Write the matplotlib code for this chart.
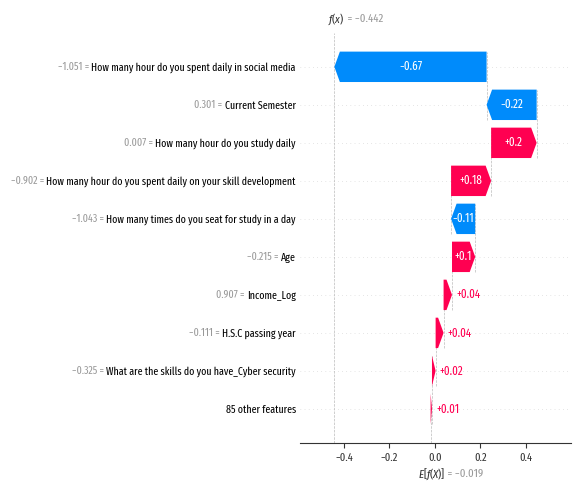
import re
import matplotlib
matplotlib.use("Agg")
import matplotlib.pyplot as plt
import matplotlib.transforms as mtransforms

# ── Waterfall explanation for a single prediction ──
feature_names = [
    "How many hour do you spent daily in social media",
    "Current Semester",
    "How many hour do you study daily",
    "How many hour do you spent daily on your skill development",
    "How many times do you seat for study in a day",
    "Age",
    "Income_Log",
    "H.S.C passing year",
    "What are the skills do you have_Cyber security",
    "85 other features",
]
feature_values = [-1.051, 0.301, 0.007, -0.902, -1.043, -0.215, 0.907, -0.111, -0.325, None]
shap_values = [-0.669, -0.220, 0.200, 0.176, -0.106, 0.102, 0.037, 0.035, 0.016, 0.006]
base_value = -0.019

RED = "#ff0051"
BLUE = "#008bfb"
FONT = ["Fira Sans Extra Condensed", "DejaVu Sans"]

plt.rcParams["font.family"] = FONT
plt.rcParams["mathtext.fontset"] = "custom"
plt.rcParams["mathtext.rm"] = "Fira Sans Extra Condensed"
plt.rcParams["mathtext.it"] = "Fira Sans Extra Condensed:italic"


def fmt(v, f):
    s = f % v
    s = re.sub(r"\.?0+$", "", s)
    if s[0] == "-":
        s = "\u2212" + s[1:]
    return s


n = len(feature_names)
fx = base_value + sum(shap_values)
rows = list(range(n - 1, -1, -1))          # top feature drawn highest

fig = plt.figure(figsize=(5.73, 4.88), dpi=100)
ax = fig.add_axes([0.5236, 0.0928, 0.4729, 0.8396])
ax.set_xlim(-0.593, 0.598)
ax.set_ylim(-0.89, n - 1 + 0.89)

# start point of every bar, accumulated from the bottom (base value) upward
lefts = [0.0] * n
cum = base_value
for k in range(n - 1, -1, -1):
    lefts[k] = cum
    cum += shap_values[k]

ax_w_in = ax.get_position().width * fig.get_figwidth()
xscale = (ax.get_xlim()[1] - ax.get_xlim()[0]) / ax_w_in
hl = 0.055 * xscale
bar_h = 0.8
renderer = fig.canvas.get_renderer()

for k in range(n):
    y = rows[k]
    v = shap_values[k]
    ax.axhline(y, color="#cccccc", lw=0.5, dashes=(1, 5), zorder=-1)
    if k < n - 1:
        ax.plot([lefts[k], lefts[k]], [y - 1 - 0.4, y + 0.4], color="#bbbbbb",
                linestyle="--", linewidth=0.5, zorder=-1)
    col = RED if v >= 0 else BLUE
    d = abs(v)
    sign = 1 if v >= 0 else -1
    arr = ax.arrow(lefts[k], y, sign * max(d - hl, 1e-6), 0, head_length=min(d, hl),
                   width=bar_h, head_width=bar_h, color=col, lw=0)
    label = fmt(v, "%+0.02f")
    t = ax.text(lefts[k] + 0.5 * v, y, label, ha="center", va="center",
                color="white", fontsize=8.6)
    # label too wide for its arrow -> put it just outside the tip
    if t.get_window_extent(renderer).width > arr.get_window_extent(renderer).width + 2:
        t.remove()
        ax.annotate(label, (lefts[k] + v, y), xytext=(3 * sign, 0), textcoords="offset points",
                    ha="left" if v >= 0 else "right", va="center", color=col, fontsize=8.6)

ax.axvline(base_value, 0, 1 / n, color="#bbbbbb", linestyle="--", linewidth=0.5, zorder=-1)
ax.axvline(fx, 0, 1, color="#bbbbbb", linestyle="--", linewidth=0.5, zorder=-1)

# y tick labels: black feature names, grey "value =" placed just left of each
ax.set_yticks(rows, feature_names)
ax.tick_params(axis="y", length=0, labelsize=7.8, pad=3)
ax.tick_params(axis="x", labelsize=8.2, colors="#333333")
ax.spines["bottom"].set_color("#333333")
for s in ("left", "top", "right"):
    ax.spines[s].set_visible(False)
ax.set_xticks([-0.4, -0.2, 0.0, 0.2, 0.4])
ax.set_xticklabels([fmt(v, "%0.1f") if v != 0 else "0.0" for v in [-0.4, -0.2, 0.0, 0.2, 0.4]])

fig.canvas.draw()
ax_box = ax.get_window_extent(renderer)
trans = mtransforms.blended_transform_factory(ax.transAxes, ax.transData)
for k in range(n):
    if feature_values[k] is None:
        continue
    lab = ax.get_yticklabels()[k]
    x0 = (lab.get_window_extent(renderer).x0 - ax_box.x0) / ax_box.width
    ax.text(x0, rows[k], fmt(feature_values[k], "%0.03f") + " = ", transform=trans,
            ha="right", va="center", fontsize=7.8, color="#999999", clip_on=False)

# f(x) and E[f(X)] markers
top = mtransforms.blended_transform_factory(ax.transData, fig.transFigure)
t1 = ax.text(fx - 6 * xscale / 100, 0.961, "$f(x)$", transform=top, ha="left", va="center",
             fontsize=8.4, color="#333333")
ax.annotate(" = " + fmt(fx, "%0.03f"), xy=(1, 0.5), xycoords=t1, ha="left", va="center",
            fontsize=8.4, color="#999999")
t2 = ax.text(base_value - 13 * xscale / 100, 0.029, "$E[f(X)]$", transform=top, ha="left",
             va="center", fontsize=8.4, color="#333333")
ax.annotate(" = " + fmt(base_value, "%0.03f"), xy=(1, 0.5), xycoords=t2, ha="left",
            va="center", fontsize=8.4, color="#999999")

fig.savefig("out.png", dpi=100)
